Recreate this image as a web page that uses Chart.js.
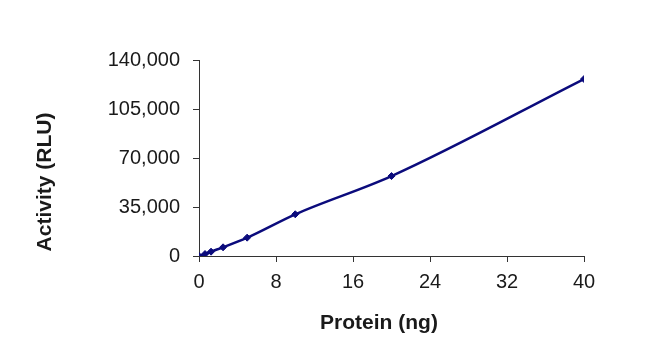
<!DOCTYPE html>
<html>
<head>
<meta charset="utf-8">
<script src="https://cdn.jsdelivr.net/npm/chart.js@4/dist/chart.umd.min.js"></script>
<style>
  html, body { margin: 0; padding: 0; background: #fff; }
  #wrap { width: 667px; height: 361px; }
</style>
</head>
<body>
<div id="wrap"><canvas id="c" width="667" height="361"></canvas></div>
<script>
const protein = [0, 0.625, 1.25, 2.5, 5, 10, 20, 40];
const activity = [0, 1400, 3100, 6200, 13100, 29800, 57100, 126400];
const xTicks = [0, 8, 16, 24, 32, 40];
const yTicks = [0, 35000, 70000, 105000, 140000];
const xTitle = 'Protein (ng)';
const yTitle = 'Activity (RLU)';

const lineColor = '#0b0b7c';
const axisColor = '#333333';
const textColor = '#1a1a1a';

const titlePlugin = {
  id: 'axisTitles',
  afterDraw(chart) {
    const ctx = chart.ctx;
    ctx.save();
    ctx.fillStyle = textColor;
    ctx.font = 'bold 21px "Liberation Sans", Arial, sans-serif';
    ctx.textAlign = 'center';
    ctx.textBaseline = 'middle';
    ctx.fillText(xTitle, 379, 323);
    ctx.translate(45, 182);
    ctx.rotate(-Math.PI / 2);
    ctx.fillText(yTitle, 0, 0);
    ctx.restore();
  }
};

new Chart(document.getElementById('c'), {
  type: 'line',
  data: {
    datasets: [{
      data: protein.map((x, i) => ({ x: x, y: activity[i] })),
      borderColor: lineColor,
      backgroundColor: lineColor,
      borderWidth: 2.5,
      pointStyle: 'rectRot',
      pointRadius: 3.5,
      pointBorderWidth: 1,
      cubicInterpolationMode: 'monotone',
      fill: false
    }]
  },
  options: {
    responsive: false,
    animation: false,
    devicePixelRatio: 1,
    layout: { padding: { left: 0, top: 60, right: 83, bottom: 0 } },
    plugins: { legend: { display: false }, tooltip: { enabled: false } },
    scales: {
      x: {
        type: 'linear',
        min: 0, max: 40,
        afterFit(scale) { scale.height = 105; },
        afterBuildTicks(scale) { scale.ticks = xTicks.map(v => ({ value: v })); },
        grid: { drawOnChartArea: false, drawTicks: true, tickLength: 6, color: axisColor, lineWidth: 1 },
        border: { color: axisColor, width: 1 },
        ticks: {
          color: textColor,
          padding: 8,
          maxRotation: 0,
          font: { family: '"Liberation Sans", Arial, sans-serif', size: 20 }
        }
      },
      y: {
        type: 'linear',
        min: 0, max: 140000,
        afterFit(scale) { scale.width = 199; },
        afterBuildTicks(scale) { scale.ticks = yTicks.map(v => ({ value: v })); },
        grid: { drawOnChartArea: false, drawTicks: true, tickLength: 6, color: axisColor, lineWidth: 1 },
        border: { color: axisColor, width: 1 },
        ticks: {
          color: textColor,
          padding: 13,
          font: { family: '"Liberation Sans", Arial, sans-serif', size: 20 },
          callback: v => v.toLocaleString('en-US')
        }
      }
    }
  },
  plugins: [titlePlugin]
});
</script>
</body>
</html>
